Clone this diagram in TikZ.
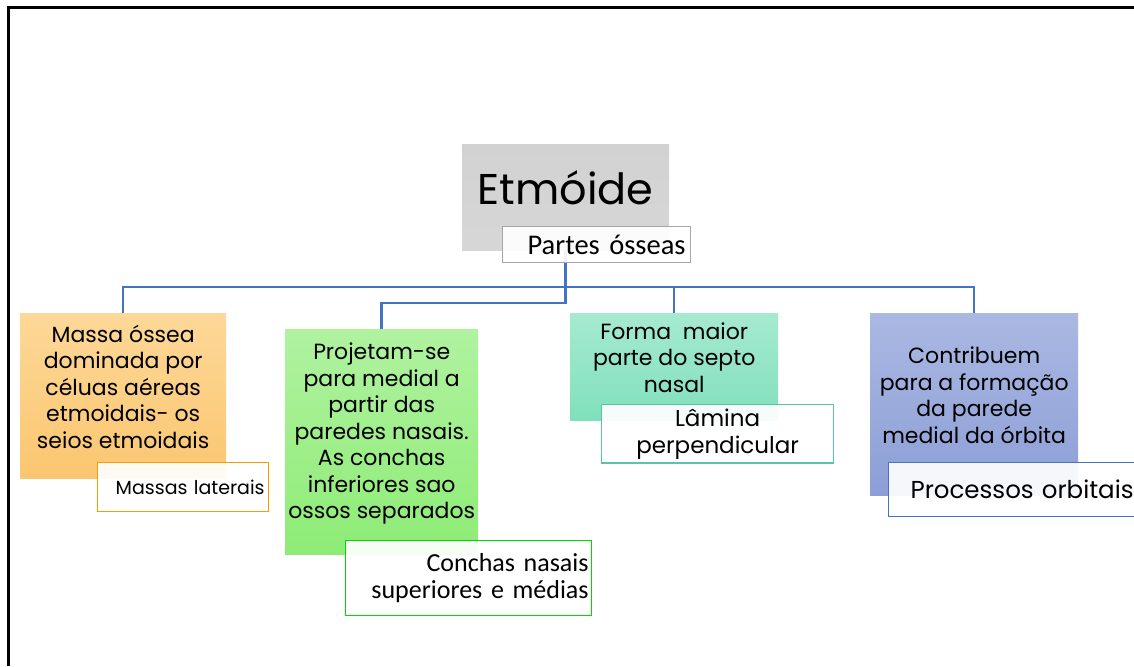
\documentclass[tikz,border=0pt]{standalone}
\usepackage{fontspec}
\setmainfont{Poppins}
\newfontfamily\calibri{Carlito}
\usepackage{xcolor}

\definecolor{busblue}{HTML}{4472C4}
\definecolor{orangetop}{HTML}{FDD898}
\definecolor{orangebot}{HTML}{FBC670}
\definecolor{greentop}{HTML}{B0F2A0}
\definecolor{greenbot}{HTML}{8EEC76}
\definecolor{tealtop}{HTML}{A6EAD0}
\definecolor{tealbot}{HTML}{80E0BC}
\definecolor{bluetop}{HTML}{AAB8E2}
\definecolor{bluebot}{HTML}{8C9ED6}
\definecolor{graybox}{HTML}{D2D2D2}

% text block lifted a little above the middle of its box
\newcommand{\boxtext}[3]{\raisebox{0pt}[\height][\dimexpr\depth+#2\relax]{\parbox{#1}{\centering #3}}}

\begin{document}
\begin{tikzpicture}[x=1pt, y=-1pt,
  box/.style={rectangle, anchor=north west, align=center, inner sep=1pt,
    font=\fontsize{22}{26.5}\selectfont},
  tag/.style={rectangle, anchor=north west, draw, line width=1.2pt, fill=white,
    fill opacity=0.92, text opacity=1, inner sep=4pt},
  bus/.style={draw=busblue, line width=2.5pt}]

\useasboundingbox (0,0) rectangle (1134,666);
\clip (0,0) rectangle (1134,666);

% Frame
\draw[line width=3pt] (8,666) -- (8,8) -- (1134,8);

% Nodes
\node (etmoide) [box, top color=graybox, bottom color=graybox!90!white,
  minimum width=207, minimum height=106, font=\fontsize{43}{50}\selectfont]
  at (462,144) {\raisebox{0pt}[\height][\dimexpr\depth+18pt\relax]{Etmóide}};

\node (massa) [box, top color=orangetop, bottom color=orangebot,
  minimum width=206, minimum height=165] at (20,313)
  {\boxtext{202pt}{18pt}{Massa óssea\\dominada por\\céluas aéreas\\etmoidais- os\\seios etmoidais}};
\node (projetam) [box, top color=greentop, bottom color=greenbot,
  minimum width=193, minimum height=225] at (285,329)
  {\boxtext{191pt}{16pt}{Projetam-se\\para medial a\\partir das\\paredes nasais.\\As conchas\\inferiores sao\\ossos separados}};
\node (forma) [box, top color=tealtop, bottom color=tealbot,
  minimum width=208, minimum height=107] at (570,313)
  {\boxtext{204pt}{18pt}{Forma\ \ maior\\parte do septo\\nasal}};
\node (contribuem) [box, top color=bluetop, bottom color=bluebot,
  minimum width=208, minimum height=182] at (870,313)
  {\boxtext{204pt}{18pt}{Contribuem\\para a formação\\da parede\\medial da órbita}};

% Lines
\draw[bus] (massa.north) -- ++(0,-26) coordinate (busrow) -| (contribuem.north);
\draw[bus] (forma.north) -- (forma.north |- busrow);
\draw[bus] (etmoide.south) -- (etmoide.south |- busrow);
\draw[bus] (etmoide.south |- busrow) -- ++(0,16) -| (projetam.north);

% Labels
\node (partes) [tag, draw=gray!70, minimum width=188, minimum height=36,
  text width=178, align=right, font=\calibri\fontsize{28.5}{30}\selectfont]
  at (502,226) {Partes ósseas};
\node (lateral) [tag, draw=orange!80!yellow, minimum width=171, minimum height=49,
  text width=163, align=right, font=\fontsize{19}{22}\selectfont]
  at (97,462) {Massas laterais};
\node (conchas) [tag, draw=green!75!black!60!green, minimum width=246, minimum height=75,
  text width=240, align=right, inner xsep=3pt, font=\calibri\fontsize{26}{27.5}\selectfont]
  at (345,540) {Conchas nasais\\superiores e médias};
\node (lamina) [tag, draw=tealbot!70!teal, minimum width=232, minimum height=58,
  text width=224, align=center, font=\fontsize{23}{27}\selectfont]
  at (601,404) {Lâmina\\perpendicular};
\node (orbitais) [tag, draw=busblue, minimum width=262, minimum height=54,
  text width=238, align=left, inner xsep=22pt, font=\fontsize{24.5}{27}\selectfont]
  at (888,462) {Processos orbitais};

\end{tikzpicture}
\end{document}
